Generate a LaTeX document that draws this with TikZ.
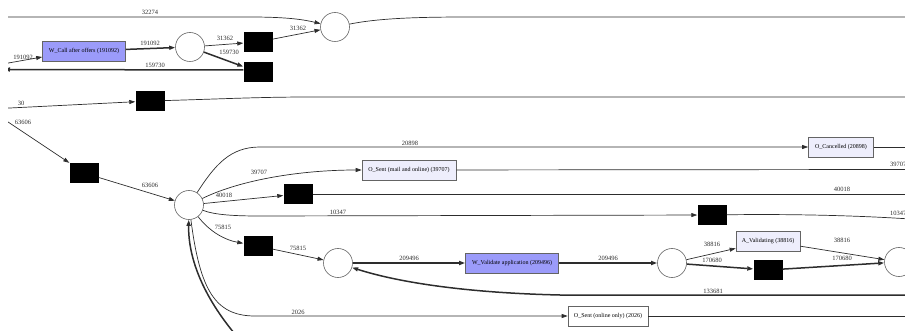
\documentclass[tikz,border=0pt]{standalone}
\usepackage{fontspec}
\setmainfont{Liberation Serif}
\usetikzlibrary{arrows.meta}
\definecolor{hiblue}{RGB}{155,155,250}
\definecolor{loblue}{RGB}{238,238,252}
\definecolor{edgec}{RGB}{45,45,45}
\definecolor{bordc}{RGB}{100,100,100}
\begin{document}
\begin{tikzpicture}[x=1pt,y=-1pt,
  place/.style={circle,draw=bordc,line width=0.6pt,minimum size=29pt,inner sep=0pt},
  trans/.style={rectangle,fill=black,minimum width=29pt,minimum height=20pt,inner sep=0pt},
  act/.style={rectangle,draw=bordc,line width=0.6pt,minimum height=20pt,inner sep=0pt,font=\fontsize{6}{7}\selectfont},
  hi/.style={act,fill=hiblue},
  lo/.style={act,fill=loblue},
  arc/.style={draw=edgec,line width=0.7pt,-{Triangle[length=6pt,width=4pt]}},
  flow/.style={draw=edgec,line width=0.7pt},
  heavy/.style={line width=1.5pt},
  lbl/.style={font=\fontsize{6.5}{7}\selectfont,inner sep=0pt,text=edgec}
]
\useasboundingbox (0,0) rectangle (905,331);
\clip (8,0) rectangle (905,331);

% free ends
\coordinate (a1) at (0,17);
\coordinate (b1) at (910,17);
\coordinate (a2) at (0,64.5);
\coordinate (a3) at (4,69.5);
\coordinate (a4) at (0,108.5);
\coordinate (b2) at (910,97);
\coordinate (a5) at (0,116.6);
\coordinate (b3) at (910,147);
\coordinate (b4) at (910,169.5);
\coordinate (b5) at (910,194);
\coordinate (b6) at (910,219);
\coordinate (c1) at (910,295);
\coordinate (b7) at (910,316);
\coordinate (c2) at (240,340);

% nodes
\node[place] (p1) at (335,27) {};
\node[hi,minimum width=83pt] (wcall) at (84,51) {W\_Call after offers (191092)};
\node[place] (p2) at (190,47) {};
\node[trans] (t1) at (258,42) {};
\node[trans] (t2) at (258,72) {};
\node[trans] (t3) at (150,101) {};
\node[trans] (t4) at (84,173) {};
\node[place] (p3) at (189,205) {};
\node[lo,minimum width=65pt] (ocanc) at (841,147) {O\_Cancelled (20898)};
\node[lo,minimum width=94pt] (osent) at (409,170) {O\_Sent (mail and online) (39707)};
\node[trans] (t5) at (298,194) {};
\node[trans] (t6) at (712,215) {};
\node[trans] (t7) at (258,246) {};
\node[place] (p4) at (338,263) {};
\node[hi,minimum width=93pt] (wval) at (512,263) {W\_Validate application (209496)};
\node[place] (p5) at (672,263) {};
\node[lo,minimum width=64pt] (aval) at (768,241) {A\_Validating (38816)};
\node[trans] (t8) at (768,270) {};
\node[place] (p6) at (899,262) {};
\node[act,fill=white,minimum width=80pt] (oonl) at (608,316) {O\_Sent (online only) (2026)};

% edges, top part
\draw[arc] (a1) -- (250,17) .. controls (290,17) and (305,20) .. (p1);
\node[lbl] at (150,12) {32274};
\draw[flow] (p1) .. controls (380,18) and (420,17) .. (470,17) -- (b1);
\draw[arc] (a2) -- ([yshift=-6pt]wcall.west);
\node[lbl] at (23,57) {191092};
\draw[arc,heavy] (wcall) -- (p2);
\node[lbl] at (150,43) {191092};
\draw[arc] (p2) -- (t1);
\node[lbl] at (225,38) {31362};
\draw[arc,heavy] (p2) -- (t2);
\node[lbl] at (229,52) {159730};
\draw[arc] (t1) -- (p1);
\node[lbl] at (298,28) {31362};
\draw[arc,heavy] ([yshift=2pt]t2.west) -- (a3);
\node[lbl] at (155,65) {159730};
\draw[arc] (a4) -- (t3);
\node[lbl] at (21,103) {30};
\draw[flow] (t3) .. controls (220,99) and (260,97) .. (310,97) -- (b2);

% middle part
\draw[arc] (a5) -- (t4.north west);
\node[lbl] at (23,122) {63606};
\draw[arc] (t4) -- (p3);
\node[lbl] at (150,185) {63606};
\draw[arc] (p3) .. controls (215,165) and (230,147) .. (260,147) -- (ocanc);
\node[lbl] at (410,143) {20898};
\draw[flow] (ocanc) -- (b3);
\draw[arc] (p3) .. controls (240,180) and (300,170) .. (osent);
\node[lbl] at (259,172) {39707};
\draw[flow] (osent) -- (b4);
\node[lbl,anchor=west] at (890,164) {39707};
\draw[arc] (p3) -- (t5);
\node[lbl] at (224,195.5) {40018};
\draw[flow] (t5) -- (b5);
\node[lbl] at (842,189) {40018};
\draw[arc] (p3) .. controls (215,215) and (235,216) .. (260,216) -- (t6);
\node[lbl] at (338,212) {10347};
\draw[flow] (t6) .. controls (780,214) and (850,215) .. (b6);
\node[lbl,anchor=west] at (890,213) {10347};

% lower part
\draw[arc] (p3) .. controls (210,232) and (225,240) .. (t7);
\node[lbl] at (223,227) {75815};
\draw[arc] (t7) -- (p4);
\node[lbl] at (298,248) {75815};
\draw[arc,heavy] (p4) -- (wval);
\node[lbl] at (409,258) {209496};
\draw[arc,heavy] (wval) -- (p5);
\node[lbl] at (608,258) {209496};
\draw[arc] (p5) -- (aval);
\node[lbl] at (712,244) {38816};
\draw[arc,heavy] (p5) -- (t8);
\node[lbl] at (712,260.5) {170680};
\draw[arc] (aval) -- (p6);
\node[lbl] at (842,240) {38816};
\draw[arc,heavy] (t8) -- (p6);
\node[lbl] at (842,258) {170680};
\draw[arc,heavy] (c1) -- (560,295) .. controls (470,293) and (400,283) .. (p4);
\node[lbl] at (713,291) {133681};
\draw[arc] (p3) .. controls (200,290) and (215,316) .. (255,316) -- (oonl);
\node[lbl] at (298,312) {2026};
\draw[flow] (oonl) -- (b7);
\draw[arc,heavy] (c2) .. controls (205,300) and (188,260) .. (p3);
\end{tikzpicture}
\end{document}
